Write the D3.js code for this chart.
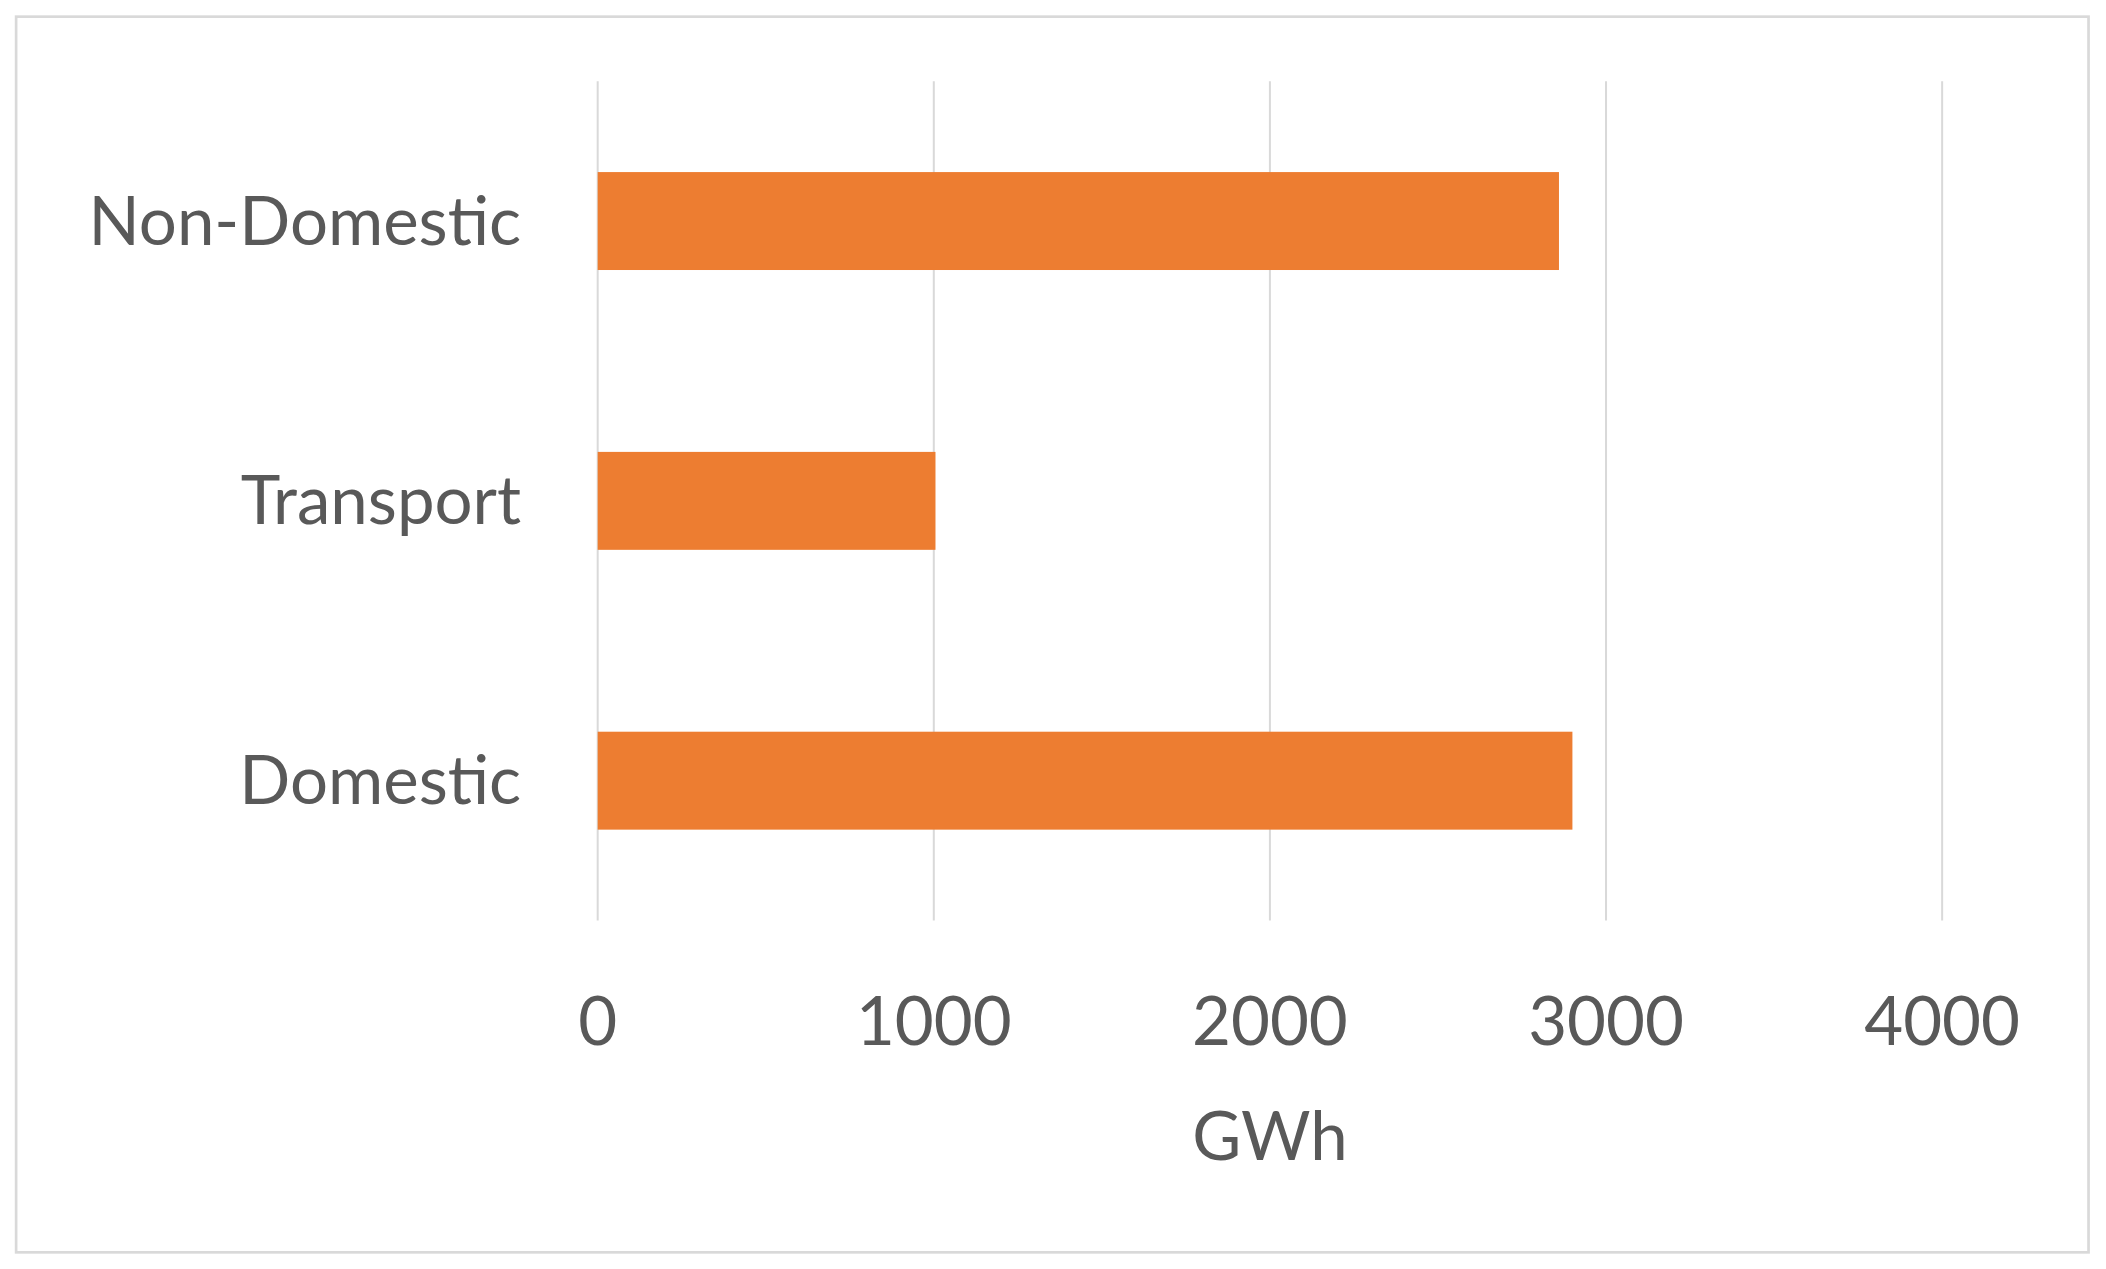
<!DOCTYPE html>
<head>
<meta charset="utf-8">
<script src="https://d3js.org/d3.v7.min.js"></script>
<style>body{margin:0;background:#fff;}svg{display:block;}</style>
</head>
<body>
<div id="container"></div>
<script>
// data
const categories = ["Non-Domestic", "Transport", "Domestic"];
const values = [2860, 1005, 2900];
const ticks = [0, 1000, 2000, 3000, 4000];

// setup svg (drawn in 1568x944 space, scaled to window)
const W = 1568, H = 944;
const svg = d3.select("#container").append("svg")
  .attr("width", 2106).attr("height", 1269)
  .attr("viewBox", "0 0 " + W + " " + H);

svg.append("rect")
  .attr("x", 12).attr("y", 12).attr("width", 1543).attr("height", 920)
  .attr("fill", "#fff").attr("stroke", "#d9d9d9").attr("stroke-width", 2);

const x = d3.scaleLinear().domain([0, 4000]).range([445, 1446]);
const y = d3.scaleBand().domain(categories).range([60, 685]).paddingInner(0.65).paddingOuter(0.325);

// gridlines
svg.selectAll("line.grid").data(ticks).enter().append("line")
  .attr("class", "grid")
  .attr("x1", d => x(d)).attr("x2", d => x(d))
  .attr("y1", 60).attr("y2", 685)
  .attr("stroke", "#d9d9d9").attr("stroke-width", 1.5);

// bars
svg.selectAll("rect.bar").data(values).enter().append("rect")
  .attr("class", "bar")
  .attr("x", x(0))
  .attr("y", (d, i) => y(categories[i]))
  .attr("width", d => x(d) - x(0))
  .attr("height", y.bandwidth())
  .attr("fill", "#ed7d31");

// y labels
svg.selectAll("text.cat").data(categories).enter().append("text")
  .attr("class", "cat")
  .attr("x", 388).attr("y", d => y(d) + y.bandwidth() / 2)
  .attr("dy", "0.35em").attr("text-anchor", "end")
  .style("font-family", "Lato").style("font-size", "50px").attr("fill", "#595959")
  .text(d => d);

// x ticks
svg.selectAll("text.tick").data(ticks).enter().append("text")
  .attr("class", "tick")
  .attr("x", d => x(d)).attr("y", 760).attr("dy", "0.35em")
  .attr("text-anchor", "middle")
  .style("font-family", "Lato").style("font-size", "50px").attr("fill", "#595959")
  .text(d => d);

svg.append("text")
  .attr("x", x(2000)).attr("y", 846).attr("dy", "0.35em")
  .attr("text-anchor", "middle")
  .style("font-family", "Lato").style("font-size", "50px").attr("fill", "#595959")
  .text("GWh");
</script>
</body>
